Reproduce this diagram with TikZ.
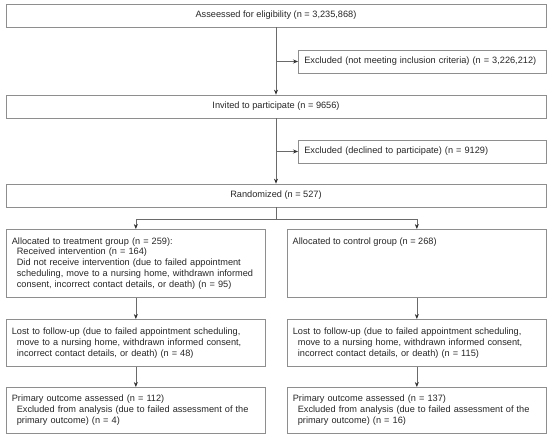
\documentclass[tikz,border=0pt]{standalone}
\usepackage{fontspec}
\setmainfont{Liberation Sans}
\usetikzlibrary{arrows.meta,positioning}
\definecolor{boxgray}{HTML}{8E8E8E}
\definecolor{linegray}{HTML}{6A6A6A}
\newcommand{\ind}{\hspace*{5pt}}

\begin{document}
\begin{tikzpicture}[x=1pt, y=-1pt, ->, >={Stealth[length=5pt,width=4pt,color=black!80]},
    every node/.append style={font=\fontsize{9.2}{10.8}\selectfont, text=black!85},
    box/.style={draw=boxgray, line width=0.7pt, inner ysep=0pt},
    wide/.style={box, minimum width=540pt, minimum height=23pt},
    side/.style={box, anchor=west, text width=236pt, inner xsep=6pt, minimum height=23pt, align=left},
    group/.style={box, anchor=north west, text width=248pt, inner xsep=5.5pt, align=left},
    flow/.style={draw=linegray, line width=0.7pt}]
    \useasboundingbox (0,0) rectangle (550,436);
    \node[wide] (assessed) at (276,15.5) {Asseessed for eligibility (n = 3,235,868)};
    \node[side] (excluded) at (298,61.5) {Excluded (not meeting inclusion criteria) (n = 3,226,212)};
    \node[wide] (invited) at (276,106.5) {Invited to participate (n = 9656)};
    \node[side] (declined) at (298,151.5) {Excluded (declined to participate) (n = 9129)};
    \node[wide] (randomized) at (276,195.5) {Randomized (n = 527)};
    \coordinate (split) at (276,219);
    \node[group, minimum height=68pt] (treatment) at (6,229) {Allocated to treatment group (n = 259):\\
      \ind Received intervention (n = 164)\\
      \ind Did not receive intervention (due to failed appointment\\
      \ind scheduling, move to a nursing home, withdrawn informed\\
      \ind consent, incorrect contact details, or death) (n = 95)};
    \node[group, minimum height=68pt] (control) at (287,229) {};
    \node[anchor=north west, inner sep=0pt] (controltext) at ([shift={(5.5pt,-8.5pt)}]control.north west) {Allocated to control group (n = 268)};
    \node[group, minimum height=47pt] (losttreat) at (6,319) {Lost to follow-up (due to failed appointment scheduling,\\
      \ind move to a nursing home, withdrawn informed consent,\\
      \ind incorrect contact details, or death) (n = 48)};
    \node[group, minimum height=47pt] (lostctrl) at (287,319) {Lost to follow-up (due to failed appointment scheduling,\\
      \ind move to a nursing home, withdrawn informed consent,\\
      \ind incorrect contact details, or death) (n = 115)};
    \node[group, minimum height=46pt] (primtreat) at (6,387) {Primary outcome assessed (n = 112)\\
      \ind Excluded from analysis (due to failed assessment of the\\
      \ind primary outcome) (n = 4)};
    \node[group, minimum height=46pt] (primctrl) at (287,387) {Primary outcome assessed (n = 137)\\
      \ind Excluded from analysis (due to failed assessment of the\\
      \ind primary outcome) (n = 16)};
    \draw[flow] (assessed) -- (invited);
    \draw[flow] (assessed.south |- excluded.west) -- (excluded.west);
    \draw[flow] (invited) -- (randomized);
    \draw[flow] (invited.south |- declined.west) -- (declined.west);
    \draw[flow, -] (randomized) -- (split);
    \draw[flow] (split) -| (treatment);
    \draw[flow] (split) -| (control);
    \draw[flow] (treatment) -- (losttreat);
    \draw[flow] (control) -- (lostctrl);
    \draw[flow] (losttreat) -- (primtreat);
    \draw[flow] (lostctrl) -- (primctrl);
\end{tikzpicture}
\end{document}
